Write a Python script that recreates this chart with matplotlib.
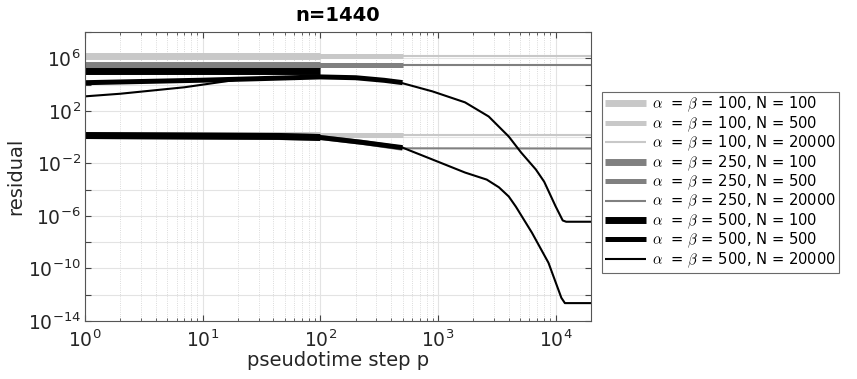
import matplotlib
matplotlib.use('Agg')
import matplotlib.pyplot as plt
import numpy as np
from matplotlib.ticker import FixedLocator, FuncFormatter, LogLocator, NullFormatter, NullLocator

# Datos (paso de pseudotiempo p y residuo)
alphas = [100, 250, 500]
n_values = [100, 500, 20000]
colores = ['#c8c8c8', '#808080', '#000000']
grosores = [5.0, 3.6, 1.5]

# rama superior
p_flat = [1, 100, 500, 20000]
sup_100 = [1.4e6, 1.4e6, 1.4e6, 1.4e6]
sup_250 = [3.0e5, 3.0e5, 3.0e5, 3.0e5]

p_sup_500_n100 = [1, 100]
sup_500_n100 = [1.0e5, 1.0e5]
p_sup_500_n500 = [1, 10, 30, 100, 200, 350, 500]
sup_500_n500 = [1.38e4, 2.14e4, 2.8e4, 3.8e4, 3.3e4, 2.1e4, 1.4e4]
p_sup_500_n20000 = [1, 2, 7, 20, 100, 200, 350, 500, 900, 1700, 2700, 4000,
                    5100, 6800, 8000, 10000, 11500, 12300, 20000]
sup_500_n20000 = [1.26e3, 2.0e3, 6.2e3, 2.4e4, 3.8e4, 3.3e4, 2.1e4, 1.26e4, 3.0e3,
                  440, 37, 1.1, 6.6e-2, 3.4e-3, 4.0e-4, 5.4e-6, 4.5e-7, 3.6e-7, 3.6e-7]

# rama inferior
inf_100 = [1.5, 1.5, 1.5, 1.5]
p_inf_250 = [1, 45, 100, 230, 500, 20000]
inf_250 = [1.3, 1.1, 0.93, 0.39, 0.14, 0.135]
p_inf_500 = [1, 45, 100, 230, 500, 900, 1700, 2600, 3300, 4000, 4600, 6300, 8700,
             11200, 12000, 20000]
inf_500 = [1.32, 1.12, 0.93, 0.39, 0.158, 1.95e-2, 2.0e-3, 5.8e-4, 1.5e-4, 3.0e-5,
           5.0e-6, 5.2e-8, 2.7e-10, 5.8e-13, 2.3e-13, 2.3e-13]

superiores = {
    100: [(p_flat, sup_100)] * 3,
    250: [(p_flat, sup_250)] * 3,
    500: [(p_sup_500_n100, sup_500_n100), (p_sup_500_n500, sup_500_n500),
          (p_sup_500_n20000, sup_500_n20000)],
}
inferiores = {100: (p_flat, inf_100), 250: (p_inf_250, inf_250), 500: (p_inf_500, inf_500)}


def recortar(p, r, n):
    p = np.array(p, dtype=float)
    r = np.array(r, dtype=float)
    m = p <= n
    return p[m], r[m]


plt.rcParams['mathtext.fontset'] = 'cm'
fig = plt.figure(figsize=(8.57, 3.79), dpi=100)
ax = fig.add_axes([85 / 857, 1 - 321 / 379, (591 - 85) / 857, (321 - 32) / 379])

handles = []
labels = []
for a, col in zip(alphas, colores):
    for j, n in enumerate(n_values):
        ps, rs = recortar(*superiores[a][j], n)
        h, = ax.loglog(ps, rs, color=col, lw=grosores[j], solid_capstyle='butt')
        pi, ri = recortar(*inferiores[a], n)
        ax.loglog(pi, ri, color=col, lw=grosores[j], solid_capstyle='butt')
        handles.append(h)
        labels.append(r'$\alpha$  = $\beta$ = %d, N = %d' % (a, n))

ax.set_xlim(1, 2e4)
ax.set_ylim(1e-14, 1e8)

# ticks
ax.xaxis.set_major_locator(LogLocator(base=10, numticks=10))
ax.xaxis.set_minor_locator(LogLocator(base=10, subs=np.arange(2, 10), numticks=20))
ax.xaxis.set_minor_formatter(NullFormatter())
yt = [10.0 ** e for e in range(-14, 9, 2)]
ax.yaxis.set_major_locator(FixedLocator(yt))
ax.yaxis.set_minor_locator(NullLocator())


def fmt_y(v, pos):
    e = int(round(np.log10(v)))
    if (e + 14) % 4 == 0 and e <= 6:
        return r'$\mathdefault{10^{%d}}$' % e
    return ''


ax.yaxis.set_major_formatter(FuncFormatter(fmt_y))
ax.tick_params(which='both', direction='in', top=True, right=True, labelsize=13.5,
               color='#444444', labelcolor='#262626')
ax.tick_params(which='major', length=4)
ax.tick_params(which='minor', length=2.5)
ax.tick_params(axis='x', which='major', pad=6)
ax.tick_params(axis='y', which='major', pad=3)

ax.grid(True, which='major', color='#e3e3e3', lw=0.8, ls='-')
ax.grid(True, which='minor', axis='x', color='#cfcfcf', lw=0.6, ls=':')
ax.set_axisbelow(True)
for s in ax.spines.values():
    s.set_color('#555555')
    s.set_linewidth(0.8)

ax.set_title('n=1440', fontsize=14, fontweight='bold', pad=8)
ax.set_xlabel('pseudotime step p', fontsize=14, color='#262626', labelpad=0)
ax.set_ylabel('residual', fontsize=14, color='#262626', labelpad=2)

leg = ax.legend(handles, labels, loc='upper left', bbox_to_anchor=(602 / 857, 1 - 92 / 379),
                bbox_transform=fig.transFigure, fontsize=10.6, frameon=True, fancybox=False,
                edgecolor='#444444', borderaxespad=0, handlelength=2.8, labelspacing=0.0,
                borderpad=0.2, handletextpad=0.4)
leg.get_frame().set_linewidth(0.8)

fig.savefig('out.png', dpi=100, facecolor='white')
